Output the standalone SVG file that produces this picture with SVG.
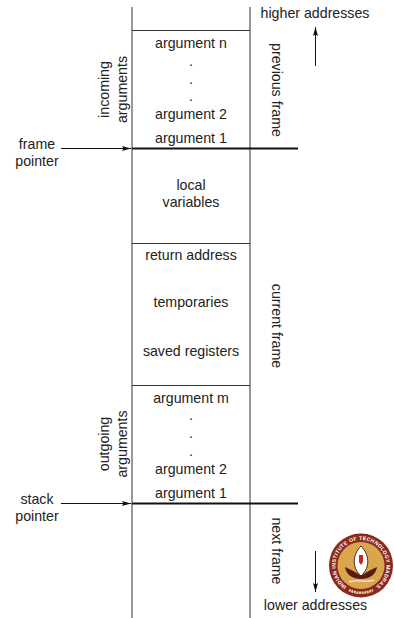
<svg xmlns="http://www.w3.org/2000/svg" width="394" height="618" viewBox="0 0 394 618">
<style>
text{font-family:"Liberation Sans",Arial,sans-serif;font-size:14.2px;fill:#222;text-anchor:middle}
.l{fill:none;stroke:#333;stroke-width:1}
.b{fill:none;stroke:#111;stroke-width:2.2}
.a{fill:none;stroke:#111;stroke-width:1}
#logo text{font-size:5.2px;fill:#fff;font-weight:bold;text-anchor:start}
</style>
<defs>
<marker id="ah" markerUnits="userSpaceOnUse" markerWidth="10" markerHeight="8" refX="9" refY="4" orient="auto"><path d="M0,1.500 L9,4 L0,6.500 L1.500,4 Z" fill="#111" stroke="none"/></marker>
<path id="ring" d="M346.500,586.500 A25.500,25.500 0 1 1 375.500,586.500"/>
</defs>
<rect width="394" height="618" fill="#fff"/>
<g id="connectors">
<path class="l" d="M132,7V618M250,7V618M132,30.500H250M132,243.500H250M132,385.500H250"/>
<path class="b" d="M132,148.500H298M132,503.500H298"/>
<path class="a" marker-end="url(#ah)" d="M61,148.500H131"/>
<path class="a" marker-end="url(#ah)" d="M61,503.500H131"/>
<path class="a" marker-end="url(#ah)" d="M315.500,66V27"/>
<path class="a" marker-end="url(#ah)" d="M315.500,551V592"/>
</g>
<g id="incoming"><text x="191" y="48">argument n</text><text x="191" y="66">.</text><text x="191" y="84">.</text><text x="191" y="101">.</text><text x="191" y="119">argument 2</text><text x="191" y="143">argument 1</text></g>
<g id="locals"><text x="191" y="190">local</text><text x="191" y="207">variables</text></g>
<g id="saved"><text x="191" y="260">return address</text><text x="191" y="307">temporaries</text><text x="191" y="356">saved registers</text></g>
<g id="outgoing"><text x="191" y="403">argument m</text><text x="191" y="420">.</text><text x="191" y="438">.</text><text x="191" y="456">.</text><text x="191" y="474">argument 2</text><text x="191" y="498">argument 1</text></g>
<g id="incoming-label"><text transform="translate(108.500,89.500) rotate(-90)">incoming</text><text transform="translate(126.500,89.500) rotate(-90)">arguments</text></g>
<g id="outgoing-label"><text transform="translate(108.500,444) rotate(-90)">outgoing</text><text transform="translate(126.500,444) rotate(-90)">arguments</text></g>
<g id="frame-pointer"><text x="37" y="149">frame</text><text x="37" y="166">pointer</text></g>
<g id="stack-pointer"><text x="37" y="504">stack</text><text x="37" y="521">pointer</text></g>
<g id="previous-frame"><text transform="translate(272,90) rotate(90)">previous frame</text></g>
<g id="current-frame"><text transform="translate(272,326) rotate(90)">current frame</text></g>
<g id="next-frame"><text transform="translate(272,551) rotate(90)">next frame</text></g>
<g id="higher"><text x="315" y="18">higher addresses</text></g>
<g id="lower"><text x="315.500" y="610">lower addresses</text></g>
<g id="logo">
<circle cx="361" cy="565.500" r="32" fill="#8a2a1e"/>
<circle cx="361" cy="565.500" r="23.500" fill="#d9a64e"/>
<path d="M361,546C353,554 351,567 361,576C371,567 369,554 361,546Z" fill="#fff" stroke="#4a2412" stroke-width="1"/>
<path d="M359,555H363V562L361,565L359,562Z" fill="#c8281f"/>
<path d="M345,567C352,570 357,573 361,576C365,573 370,570 377,567C376,575 369,579 361,579C353,579 346,575 345,567Z" fill="#5a1a10"/>
<path d="M349,582C357,579 366,583 374,580" fill="none" stroke="#fff" stroke-width="1"/>
<text><textPath href="#ring" textLength="128" lengthAdjust="spacing">INDIAN INSTITUTE OF TECHNOLOGY MADRAS</textPath></text>
<path d="M349,590A27,27 0 0 0 373,590" fill="none" stroke="#e8d2a0" stroke-width="2.500" stroke-dasharray="2 .6"/>
</g>
</svg>
